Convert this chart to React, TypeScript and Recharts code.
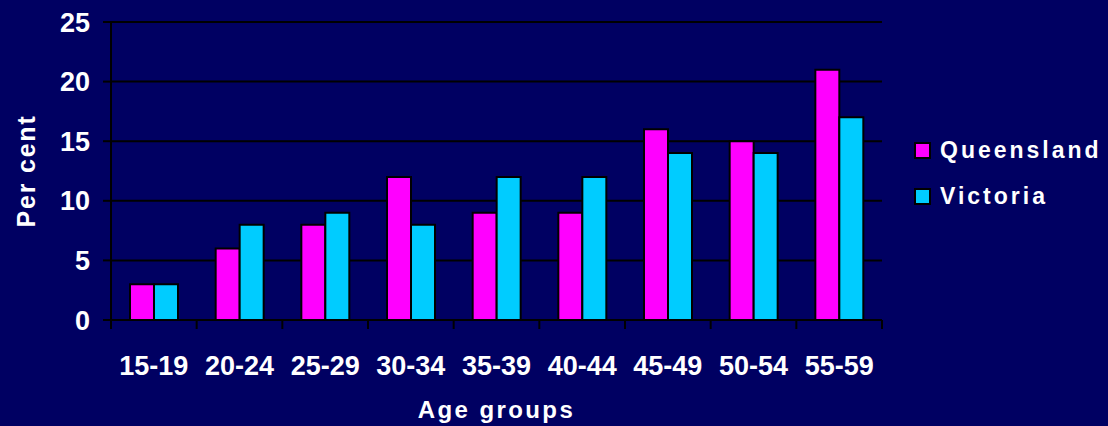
import { BarChart, Bar, XAxis, YAxis, CartesianGrid, Label } from 'recharts';

const ageGroups = ['15-19', '20-24', '25-29', '30-34', '35-39', '40-44', '45-49', '50-54', '55-59'];
const queensland = [3, 6, 8, 12, 9, 9, 16, 15, 21];
const victoria = [3, 8, 9, 8, 12, 12, 14, 14, 17];
const yTicks = [0, 5, 10, 15, 20, 25];

const seriesNames = ['Queensland', 'Victoria'];
const seriesColors = ['#ff00ff', '#00ccff'];

const BG = '#000062';
const FONT = '"Liberation Sans", Arial, sans-serif';

const data = ageGroups.map((age, i) => ({
  age,
  Queensland: queensland[i],
  Victoria: victoria[i],
}));

const AgeTick = (props: any) => {
  const { x, y, payload, index } = props;
  const half = payload?.offset || 42.8;
  const last = index === ageGroups.length - 1;
  return (
    <g>
      <line x1={x - half} y1={y} x2={x - half} y2={y + 9} stroke="#000" strokeWidth={2} />
      {last && <line x1={x + half} y1={y} x2={x + half} y2={y + 9} stroke="#000" strokeWidth={2} />}
      <text x={x} y={y + 55} textAnchor="middle" fill="#fff" fontFamily={FONT} fontWeight="bold" fontSize={27}>
        {payload.value}
      </text>
    </g>
  );
};

// legend sits to the right of the plot, drawn as plain html
const SideLegend = () => (
  <div
    style={{
      position: 'absolute',
      left: 914,
      top: 127,
      fontFamily: FONT,
      fontWeight: 'bold',
      fontSize: 23,
      color: '#fff',
      letterSpacing: 3,
    }}
  >
    {seriesNames.map((name, i) => (
      <div key={name} style={{ display: 'flex', alignItems: 'center', height: 46 }}>
        <span
          style={{
            display: 'inline-block',
            width: 13,
            height: 13,
            background: seriesColors[i],
            border: '2px solid #000',
            marginRight: 9,
          }}
        />
        <span>{name}</span>
      </div>
    ))}
  </div>
);

export default function App() {
  return (
    <div style={{ position: 'fixed', left: 0, top: 0, width: 1108, height: 426, background: BG }}>
      <BarChart
        width={1108}
        height={426}
        data={data}
        margin={{ top: 22, right: 226, left: 0, bottom: 0 }}
        barSize={24}
        barGap={0}
      >
        <CartesianGrid horizontal vertical={false} stroke="#000" strokeWidth={2} />
        <XAxis
          dataKey="age"
          height={106}
          tickLine={false}
          tickSize={0}
          tickMargin={0}
          axisLine={{ stroke: '#000', strokeWidth: 2 }}
          tick={<AgeTick />}
          interval={0}
        >
          <Label
            content={(p: any) => {
              const vb = p.viewBox || { x: 111, width: 771 };
              return (
                <text
                  x={vb.x + vb.width / 2}
                  y={418}
                  textAnchor="middle"
                  fill="#fff"
                  fontFamily={FONT}
                  fontWeight="bold"
                  fontSize={24}
                  letterSpacing={2.4}
                >
                  Age groups
                </text>
              );
            }}
          />
        </XAxis>
        <YAxis
          width={111}
          domain={[0, 25]}
          ticks={yTicks}
          interval={0}
          tickSize={8}
          tickMargin={13}
          tickLine={{ stroke: '#000', strokeWidth: 2 }}
          axisLine={{ stroke: '#000', strokeWidth: 2 }}
          tick={{ fill: '#fff', fontFamily: FONT, fontWeight: 'bold', fontSize: 27 }}
        >
          <Label
            content={(p: any) => {
              const vb = p.viewBox || { y: 22, height: 298 };
              const cy = vb.y + vb.height / 2;
              return (
                <text
                  x={35}
                  y={cy}
                  transform={`rotate(-90 35 ${cy})`}
                  textAnchor="middle"
                  fill="#fff"
                  fontFamily={FONT}
                  fontWeight="bold"
                  fontSize={25}
                  letterSpacing={1.8}
                >
                  Per cent
                </text>
              );
            }}
          />
        </YAxis>
        <Bar dataKey="Queensland" fill={seriesColors[0]} stroke="#000" strokeWidth={2} isAnimationActive={false} />
        <Bar dataKey="Victoria" fill={seriesColors[1]} stroke="#000" strokeWidth={2} isAnimationActive={false} />
      </BarChart>
      <SideLegend />
    </div>
  );
}
